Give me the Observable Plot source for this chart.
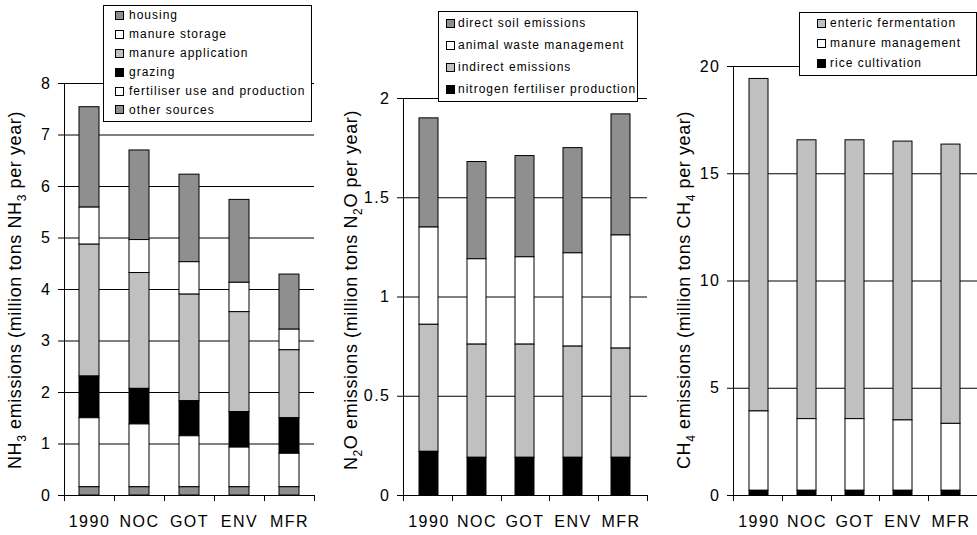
<!DOCTYPE html>
<html><head><meta charset="utf-8">
<script src="https://cdn.jsdelivr.net/npm/d3@7"></script>
<script src="https://cdn.jsdelivr.net/npm/@observablehq/plot@0.6"></script>
<style>
body{margin:0;background:#fff;}
#root{position:relative;width:977px;height:535px;overflow:hidden;font-family:"Liberation Sans",Arial,sans-serif;}
.panel{position:absolute;top:0;}
.legend{position:absolute;background:#fff;border:1px solid #000;box-sizing:border-box;font-size:12px;letter-spacing:1px;color:#000;}
.legend .row{display:flex;align-items:center;white-space:nowrap;}
.legend .sw{width:9px;height:9px;box-sizing:border-box;border:1px solid #000;flex:none;}
</style></head><body><div id="root"></div>
<script>
const cats = ["1990","NOC","GOT","ENV","MFR"];

// NH3 panel (legend order, top to bottom)
const nh3Series = ["housing","manure storage","manure application","grazing","fertiliser use and production","other sources"];
const nh3Colors = ["#8f8f8f","#ffffff","#c0c0c0","#000000","#ffffff","#8f8f8f"];
const nh3Housing     = [1.95,1.74,1.70,1.61,1.07];
const nh3Storage     = [0.72,0.64,0.63,0.57,0.40];
const nh3Application = [2.56,2.25,2.07,1.94,1.32];
const nh3Grazing     = [0.81,0.69,0.68,0.69,0.69];
const nh3Fertiliser  = [1.34,1.22,0.99,0.77,0.65];
const nh3Other       = [0.16,0.16,0.16,0.16,0.16];
const nh3Ticks = [0,1,2,3,4,5,6,7,8];

// N2O panel
const n2oSeries = ["direct soil emissions","animal waste management","indirect emissions","nitrogen fertiliser production"];
const n2oColors = ["#8f8f8f","#ffffff","#c0c0c0","#000000"];
const n2oDirect   = [0.55,0.49,0.51,0.53,0.61];
const n2oWaste    = [0.49,0.43,0.44,0.47,0.57];
const n2oIndirect = [0.64,0.57,0.57,0.56,0.55];
const n2oFert     = [0.22,0.19,0.19,0.19,0.19];
const n2oTicks = [0,0.5,1,1.5,2];

// CH4 panel
const ch4Series = ["enteric fermentation","manure management","rice cultivation"];
const ch4Colors = ["#c0c0c0","#ffffff","#000000"];
const ch4Enteric = [15.50,13.00,13.00,13.00,13.02];
const ch4Manure  = [3.70,3.34,3.34,3.28,3.12];
const ch4Rice    = [0.22,0.22,0.22,0.22,0.22];
const ch4Ticks = [0,5,10,15,20];

const nh3Title = ["NH",{sub:"3"}," emissions (million tons NH",{sub:"3"}," per year)"];
const n2oTitle = ["N",{sub:"2"},"O emissions (million tons N",{sub:"2"},"O per year)"];
const ch4Title = ["CH",{sub:"4"}," emissions (million tons CH",{sub:"4"}," per year)"];

const FONT = '"Liberation Sans", Arial, sans-serif';
const root = document.getElementById("root");

function build(series, values){
  const rows=[];
  series.forEach((s,i)=>cats.forEach((c,j)=>rows.push({cat:c,series:s,value:values[i][j]})));
  return rows;
}

function panel(cfg){
  const data = build(cfg.series, cfg.values);
  const order = cfg.series.slice().reverse();
  const plot = Plot.plot({
    width: cfg.width, height: 535,
    marginLeft: cfg.ml, marginRight: cfg.mr, marginTop: cfg.mt, marginBottom: 40,
    style: {fontFamily: FONT, fontSize: "16px", letterSpacing: "1.5px", color: "#000", background: "transparent", overflow: "visible"},
    x: {domain: cats, paddingInner: 0.6, paddingOuter: 0.3, label: null},
    y: {domain: [0, cfg.yMax], label: null},
    color: {domain: cfg.series, range: cfg.colors},
    marks: [
      Plot.ruleY(cfg.ticks.filter(t => t > 0), {stroke: "#000", strokeWidth: 1}),
      Plot.barY(data, {x: "cat", y: "value", fill: "series", z: "series", order, stroke: "#000", strokeWidth: 1}),
      Plot.axisY({ticks: cfg.ticks, tickSize: 6, tickPadding: 7, tickFormat: d3.format("~g"), fontSize: 16, stroke: "#000", label: null}),
      Plot.axisX({tickSize: 0, tickPadding: 20, fontSize: 16, label: null}),
      Plot.frame({anchor: "left", stroke: "#000"}),
      Plot.ruleY([0], {stroke: "#000"})
    ]
  });
  const svg = d3.select(plot);
  // category boundary ticks on the x axis, from Plot's band scale
  const xs = plot.scale("x");
  const ys = plot.scale("y");
  const y0 = ys.apply(0);
  const r0 = xs.range[0], r1 = xs.range[1];
  const n = cats.length;
  const g = svg.append("g").attr("stroke","#000").attr("stroke-width",1);
  for (let i=0;i<=n;i++){
    const x = Math.round(r0 + i*(r1-r0)/n) + 0.5;
    g.append("line").attr("x1",x).attr("x2",x).attr("y1",y0).attr("y2",y0+6);
  }
  // axis title with subscripts
  const t = svg.append("text")
    .attr("transform",`translate(${cfg.titleX},290) rotate(-90)`)
    .attr("text-anchor","middle")
    .attr("fill","#000")
    .style("font-family",FONT).style("font-size","18px").style("letter-spacing","0.6px");
  let shifted=false;
  cfg.title.forEach(p=>{
    if (typeof p === "string"){
      const ts=t.append("tspan").text(p);
      if (shifted){ts.attr("dy",-5); shifted=false;}
    } else {
      t.append("tspan").attr("dy",5).style("font-size","12px").text(p.sub);
      shifted=true;
    }
  });
  const wrap = document.createElement("div");
  wrap.className="panel";
  wrap.style.left = cfg.left+"px";
  wrap.appendChild(plot);
  root.appendChild(wrap);

  // legend
  const L = cfg.legend;
  const lg = document.createElement("div");
  lg.className="legend";
  lg.style.left=L.x+"px"; lg.style.top=L.y+"px"; lg.style.width=L.w+"px"; lg.style.height=L.h+"px";
  lg.style.paddingLeft=L.pad+"px";
  cfg.series.forEach((s,i)=>{
    const row=document.createElement("div");
    row.className="row";
    row.style.height=L.step+"px";
    const sw=document.createElement("span");
    sw.className="sw"; sw.style.background=cfg.colors[i]; sw.style.marginRight=L.gap+"px";
    const tx=document.createElement("span"); tx.textContent=s;
    row.appendChild(sw); row.appendChild(tx);
    lg.appendChild(row);
  });
  root.appendChild(lg);
}

panel({left:0, width:325, ml:64, mr:11, mt:83, yMax:8, ticks:nh3Ticks,
  series:nh3Series, colors:nh3Colors,
  values:[nh3Housing,nh3Storage,nh3Application,nh3Grazing,nh3Fertiliser,nh3Other],
  title:nh3Title, titleX:21,
  legend:{x:103,y:5,w:209,h:117,step:18.9,pad:11,gap:5}});

panel({left:325, width:325, ml:78, mr:3, mt:98, yMax:2, ticks:n2oTicks,
  series:n2oSeries, colors:n2oColors,
  values:[n2oDirect,n2oWaste,n2oIndirect,n2oFert],
  title:n2oTitle, titleX:32,
  legend:{x:438,y:11,w:200,h:91,step:22.1,pad:7,gap:3}});

panel({left:650, width:327, ml:83, mr:0, mt:66, yMax:20, ticks:ch4Ticks,
  series:ch4Series, colors:ch4Colors,
  values:[ch4Enteric,ch4Manure,ch4Rice],
  title:ch4Title, titleX:40,
  legend:{x:799,y:12,w:178,h:64,step:20,pad:17,gap:4}});
</script></body></html>
